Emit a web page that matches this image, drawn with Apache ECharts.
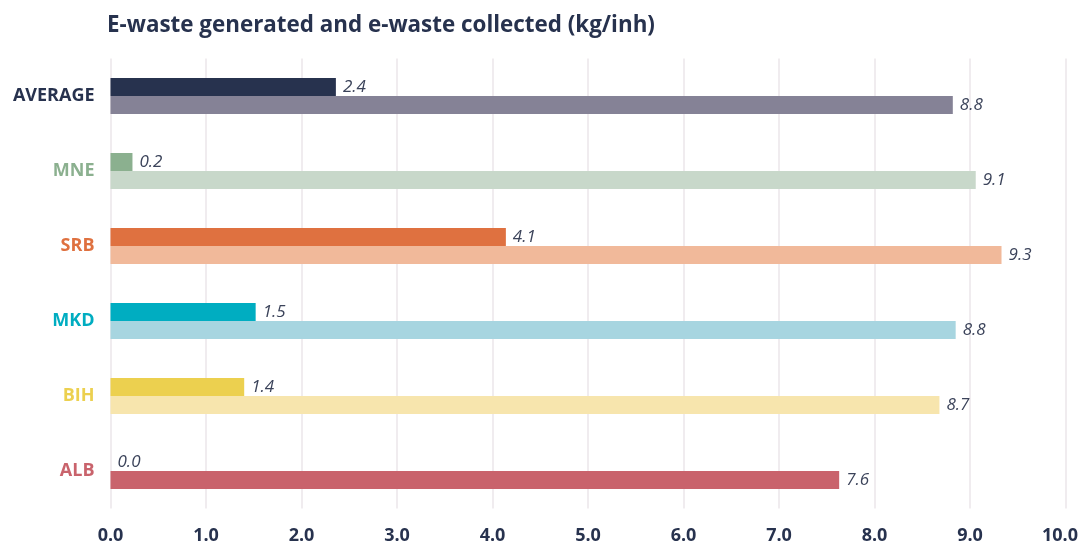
<!DOCTYPE html>
<html>
<head>
<meta charset="utf-8">
<script src="https://cdn.jsdelivr.net/npm/echarts@6/dist/echarts.min.js"></script>
<style>
  html, body { margin: 0; padding: 0; background: #ffffff; }
  #chart { width: 1082px; height: 543px; }
</style>
</head>
<body>
<div id="chart"></div>
<script>
// Countries, top to bottom
const categories = ['AVERAGE', 'MNE', 'SRB', 'MKD', 'BIH', 'ALB'];
// E-waste collected (kg per inhabitant)
const collected = [2.36, 0.23, 4.14, 1.52, 1.40, 0.0];
// E-waste generated (kg per inhabitant)
const generated = [8.82, 9.06, 9.33, 8.85, 8.68, 7.63];
// Axis ticks
const xTicks = [0, 1, 2, 3, 4, 5, 6, 7, 8, 9, 10];

// Per-country colours: strong tone for collected, pale tone for generated
const strongColors = ['#27324e', '#8bb08f', '#df7140', '#00adc1', '#ecd04f', '#c9636c'];
const paleColors = ['#858296', '#c8d8ca', '#f1b99a', '#a7d5e0', '#f7e5ad', '#c9636c'];

const labelStyle = {
  show: true,
  position: 'right',
  distance: 7,
  fontFamily: 'Open Sans',
  fontStyle: 'italic',
  fontSize: 17,
  color: '#3b435a',
  formatter: p => p.value.toFixed(1)
};

const tickFont = { fontFamily: 'Open Sans', fontWeight: 'bold', fontSize: 18, color: '#27324e' };

const chart = echarts.init(document.getElementById('chart'), null, { renderer: 'canvas' });
chart.setOption({
  animation: false,
  backgroundColor: '#ffffff',
  title: {
    text: 'E-waste generated and e-waste collected (kg/inh)',
    left: 102,
    top: 10,
    textStyle: { fontFamily: 'Open Sans', fontWeight: 'bold', fontSize: 22.4, color: '#27324e' }
  },
  grid: {
    left: 110.5, right: 16.5, top: 58.5, bottom: 34.5,
    containLabel: false,
    outerBoundsMode: 'none'
  },
  xAxis: {
    type: 'value',
    min: xTicks[0],
    max: xTicks[xTicks.length - 1],
    interval: 1,
    axisLine: { show: false },
    axisTick: { show: false },
    splitLine: { show: true, lineStyle: { color: '#ebe6ea', width: 1.5 } },
    axisLabel: {
      margin: 18,
      ...tickFont,
      // the last tick label is nudged left so it stays inside the canvas
      formatter: v => (v === xTicks[xTicks.length - 1] ? '{e|' : '{n|') + v.toFixed(1) + '}',
      rich: {
        n: { ...tickFont },
        e: { ...tickFont, padding: [0, 11, 0, 0] }
      }
    }
  },
  yAxis: {
    type: 'category',
    data: categories,
    inverse: true,
    axisLine: { show: false },
    axisTick: { show: false },
    splitLine: { show: false },
    axisLabel: {
      margin: 16,
      fontFamily: 'Open Sans',
      fontWeight: 'bold',
      fontSize: 18,
      color: (v, i) => strongColors[i]
    }
  },
  series: [
    {
      name: 'Collected',
      type: 'bar',
      barWidth: 18,
      barGap: '0%',
      data: collected.map((v, i) => ({ value: v, itemStyle: { color: strongColors[i] } })),
      label: labelStyle
    },
    {
      name: 'Generated',
      type: 'bar',
      barWidth: 18,
      barGap: '0%',
      data: generated.map((v, i) => ({ value: v, itemStyle: { color: paleColors[i] } })),
      label: labelStyle
    }
  ]
});
</script>
</body>
</html>
